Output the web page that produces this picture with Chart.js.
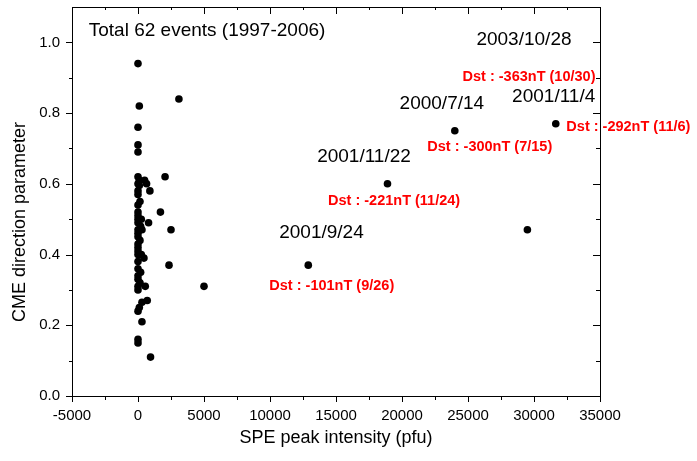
<!DOCTYPE html>
<html>
<head>
<meta charset="utf-8">
<script src="https://cdn.jsdelivr.net/npm/chart.js@4"></script>
<style>
    body { margin: 0; background: #fff; }
    #wrap { width: 697px; height: 461px; }
</style>
</head>
<body>
<div id="wrap"><canvas id="speChart" width="697" height="461"></canvas></div>
<script>
// SPE peak intensity (pfu) for each event
const speIntensity = [
    0, 3100, 100, 0, 0, 0, 0, 500, 2050, 100,
    900, 650, 0, 0, 1700, 0, 250, 0, 800, 0,
    2500, 0, 0, 0, 0, 450, 2350, 0, 0, 150,
    0, 550, 700, 300, 0, 300, 0, 0, 950, 5000,
    12900, 18900, 24000, 29500, 31650,
    0, 0, 150, 0, 200, 0, 150, 0, 250, 0,
    200, 0, 0, 100, 0, 300, 100
];
// CME direction parameter for each event
const directionParam = [
    0.94, 0.84, 0.82, 0.76, 0.71, 0.69, 0.62, 0.61, 0.62, 0.595,
    0.58, 0.60, 0.57, 0.54, 0.52, 0.51, 0.50, 0.49, 0.49, 0.47,
    0.47, 0.45, 0.43, 0.41, 0.40, 0.39, 0.37, 0.36, 0.34, 0.32,
    0.31, 0.31, 0.27, 0.265, 0.24, 0.21, 0.16, 0.15, 0.11, 0.31,
    0.37, 0.60, 0.75, 0.47, 0.77,
    0.60, 0.58, 0.55, 0.52, 0.48, 0.46, 0.44, 0.42, 0.40, 0.38,
    0.35, 0.33, 0.30, 0.61, 0.50, 0.47, 0.25
];
const xTickStep = 2500;
const yTickStep = 0.1;

// big events and their storms
const eventDates = ["2003/10/28", "2001/11/4", "2000/7/14", "2001/11/22", "2001/9/24"];
const dstTexts = ["Dst : -363nT (10/30)", "Dst : -292nT (11/6)", "Dst : -300nT (7/15)", "Dst : -221nT (11/24)", "Dst : -101nT (9/26)"];
const titleText = "Total 62 events (1997-2006)";

document.addEventListener("DOMContentLoaded", function () {
    const points = speIntensity.map((x, i) => ({ x: x, y: directionParam[i] }));
    const fontFamily = "'Liberation Sans', Arial, sans-serif";

    // where the notes sit, in data units
    const dateSpots = [[29240, 1.006, "center"], [31490, 0.846, "center"], [23020, 0.826, "center"], [17120, 0.676, "center"], [13900, 0.463, "center"]];
    const dstSpots = [[29620, 0.902, "center"], [32450, 0.761, "left"], [26650, 0.703, "center"], [19400, 0.552, "center"], [14680, 0.312, "center"]];

    const frame = {
        id: "frame",
        afterDraw(chart) {
            const c = chart.ctx;
            const a = chart.chartArea;
            const xs = chart.scales.x;
            const ys = chart.scales.y;
            const L = Math.round(a.left), R = Math.round(a.right);
            const T = Math.round(a.top), B = Math.round(a.bottom);
            c.save();
            c.globalAlpha = 1;
            c.fillStyle = "#000";
            // box
            c.fillRect(L, T, R - L + 1, 1);
            c.fillRect(L, B, R - L + 1, 1);
            c.fillRect(L, T, 1, B - T + 1);
            c.fillRect(R, T, 1, B - T + 1);

            xs.ticks.forEach(t => {
                const px = Math.round(xs.getPixelForValue(t.value));
                const major = t.value % 5000 === 0;
                c.fillRect(px, B, 1, major ? 6 : 4);
                c.fillRect(px, T, 1, major ? 7 : 3);
            });
            ys.ticks.forEach(t => {
                const n = Math.round(t.value * 10);
                if (n > 10) return;
                const py = Math.round(ys.getPixelForValue(t.value));
                const major = n % 2 === 0;
                const lenL = major ? 6 : 3;
                const lenR = major ? 7 : 4;
                c.fillRect(L - lenL, py, lenL, 1);
                c.fillRect(R - lenR, py, lenR, 1);
            });

            // y title
            c.font = "18px " + fontFamily;
            c.textAlign = "center";
            c.textBaseline = "middle";
            c.translate(20, 222);
            c.rotate(-Math.PI / 2);
            c.fillText("CME direction parameter", 0, 0);
            c.restore();
        },
        afterDatasetsDraw(chart) {
            const c = chart.ctx;
            const xs = chart.scales.x;
            const ys = chart.scales.y;
            c.save();
            c.textBaseline = "middle";
            c.fillStyle = "#000";
            c.font = "19px " + fontFamily;
            c.textAlign = "center";
            c.fillText(titleText, xs.getPixelForValue(5230), ys.getPixelForValue(1.034));
            eventDates.forEach((d, i) => {
                const s = dateSpots[i];
                c.textAlign = s[2];
                c.fillText(d, xs.getPixelForValue(s[0]), ys.getPixelForValue(s[1]));
            });
            c.fillStyle = "#ff0000";
            c.font = "bold 14.5px " + fontFamily;
            dstTexts.forEach((d, i) => {
                const s = dstSpots[i];
                c.textAlign = s[2];
                c.fillText(d, xs.getPixelForValue(s[0]), ys.getPixelForValue(s[1]));
            });
            c.restore();
        }
    };

    const ctx = document.getElementById("speChart").getContext("2d");
    new Chart(ctx, {
        type: "scatter",
        data: {
            datasets: [{
                data: points,
                backgroundColor: "#000",
                borderWidth: 0,
                pointRadius: 3.8,
                pointHoverRadius: 3.8
            }]
        },
        options: {
            responsive: false,
            animation: false,
            layout: { padding: { top: 7, right: 97, left: 0, bottom: 0 } },
            plugins: {
                legend: { display: false },
                tooltip: { enabled: false }
            },
            scales: {
                x: {
                    type: "linear",
                    min: -5000,
                    max: 35000,
                    grid: { display: false },
                    border: { display: false },
                    ticks: {
                        stepSize: xTickStep,
                        autoSkip: false,
                        maxRotation: 0,
                        padding: 3,
                        color: "#000",
                        font: { family: fontFamily, size: 15 },
                        callback: v => (v % 5000 === 0 ? String(v) : "")
                    },
                    title: {
                        display: true,
                        text: "SPE peak intensity (pfu)",
                        color: "#000",
                        font: { family: fontFamily, size: 18 },
                        padding: { top: 0, bottom: 12 }
                    },
                    afterFit: scale => { scale.height = 65; }
                },
                y: {
                    type: "linear",
                    min: 0,
                    max: 1.1,
                    grid: { display: false },
                    border: { display: false },
                    ticks: {
                        stepSize: yTickStep,
                        autoSkip: false,
                        padding: 4,
                        color: "#000",
                        font: { family: fontFamily, size: 15 },
                        callback: v => {
                            const n = Math.round(v * 10);
                            return n % 2 === 0 && n <= 10 ? (n / 10).toFixed(1) : "";
                        }
                    },
                    afterFit: scale => {
                        scale.width = 72;
                        scale.paddingTop = 0;
                        scale.paddingBottom = 0;
                    }
                }
            }
        },
        plugins: [frame]
    });
});
</script>
</body>
</html>
